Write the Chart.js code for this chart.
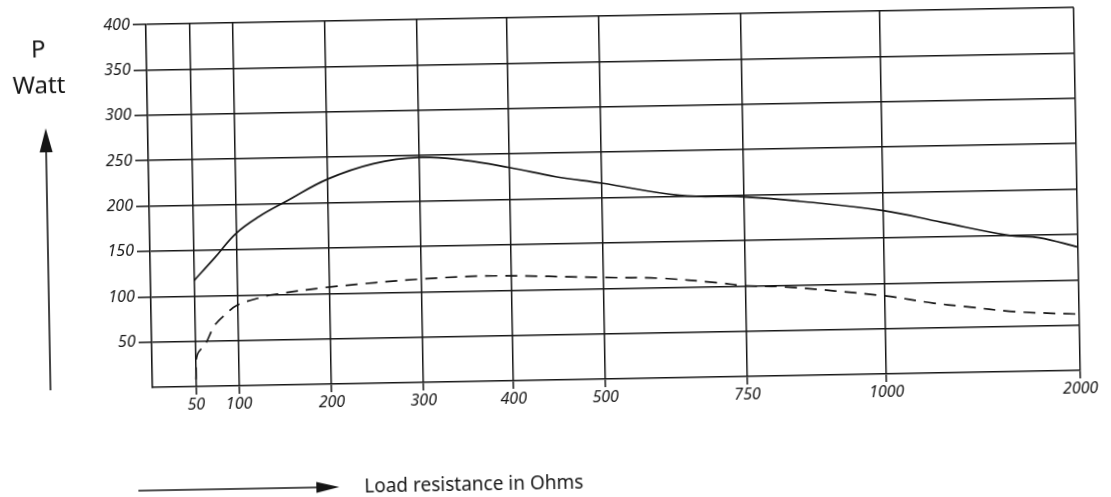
<!DOCTYPE html>
<html><head><meta charset="utf-8">
<script src="https://cdn.jsdelivr.net/npm/chart.js@4/dist/chart.umd.min.js"></script>
<style>
html,body{margin:0;padding:0;background:#fff;overflow:hidden;}
#wrap{width:1111px;height:497px;transform:rotate(-1.05deg);transform-origin:555.5px 248.5px;}
canvas{display:block;}
</style></head><body>
<div id="wrap"><canvas id="c" width="1111" height="497"></canvas></div>
<script>
// ---- axis graduations ----
const resistanceTicks = [50, 100, 200, 300, 400, 500, 750, 1000, 2000];
const resistanceTickLabels = ['50', '100', '200', '300', '400', '500', '750', '1000', '2000'];
// relative spacing of the printed (non-uniform) resistance graduations, axis start = 0, axis end = 10
const axisGraduation = [0.47, 0.93, 1.93, 2.92, 3.89, 4.88, 6.41, 7.91, 10];
const powerTicks = [50, 100, 150, 200, 250, 300, 350, 400];

// ---- series ----
const solidResistance = [50, 75, 100, 125, 156, 200, 250, 300, 350, 400, 450, 500, 637, 750, 850, 1000, 1300, 1650, 1800, 2000];
const solidPower      = [117, 142, 168, 186, 203, 226, 242, 248, 244, 235, 224, 216, 201, 198, 192, 180, 166, 150, 147, 136];

const dashedResistance = [50, 52, 62, 73, 86, 100, 126, 140, 200, 300, 380, 500, 600, 700, 750, 820, 1000, 1250, 1400, 1670, 2000];
const dashedPower      = [8, 35, 47, 67, 79, 89, 97, 100, 107, 114, 116, 112, 110, 104, 100, 98, 86, 77, 73, 66, 62];

const axisTitleY = ['P', 'Watt'];
const axisTitleX = 'Load resistance in Ohms';

// ---- piecewise resistance scale ----
const gradStops = [0].concat(resistanceTicks);
const unitStops = [0].concat(axisGraduation);
const unitMax = axisGraduation[axisGraduation.length - 1];
function toUnit(v) {
  for (let i = 1; i < gradStops.length; i++) {
    if (v <= gradStops[i] || i === gradStops.length - 1) {
      const a = gradStops[i - 1], b = gradStops[i];
      return unitStops[i - 1] + (v - a) / (b - a) * (unitStops[i] - unitStops[i - 1]);
    }
  }
}
function fromUnit(u) {
  for (let i = 1; i < unitStops.length; i++) {
    if (u <= unitStops[i] || i === unitStops.length - 1) {
      const a = unitStops[i - 1], b = unitStops[i];
      return gradStops[i - 1] + (u - a) / (b - a) * (gradStops[i] - gradStops[i - 1]);
    }
  }
}
class PiecewiseScale extends Chart.LinearScale {
  getPixelForValue(v) { return this.getPixelForDecimal(toUnit(v) / unitMax); }
  getValueForPixel(p) { return fromUnit(this.getDecimalForPixel(p) * unitMax); }
  buildTicks() { return resistanceTicks.map(v => ({ value: v })); }
}
PiecewiseScale.id = 'piecewise';
PiecewiseScale.defaults = Chart.LinearScale.defaults;
Chart.register(PiecewiseScale);

const ink = '#161616';

const decor = {
  id: 'decor',
  beforeDraw(chart) {
    const ctx = chart.ctx;
    ctx.save(); ctx.fillStyle = '#fff'; ctx.fillRect(0, 0, chart.width, chart.height); ctx.restore();
  },
  afterDraw(chart) {
    const ctx = chart.ctx;
    ctx.save();
    ctx.fillStyle = ink; ctx.strokeStyle = ink;
    ctx.textAlign = 'center'; ctx.textBaseline = 'middle';
    ctx.font = '24px "Noto Sans"';
    ctx.fillText(axisTitleY[0], 42, 41);
    ctx.fillText(axisTitleY[1], 42, 77);
    // upward arrow
    ctx.lineWidth = 1.6;
    ctx.beginPath(); ctx.moveTo(48, 381); ctx.lineTo(48, 138); ctx.stroke();
    ctx.beginPath(); ctx.moveTo(48, 119); ctx.lineTo(41.5, 143); ctx.lineTo(54.5, 143); ctx.closePath(); ctx.fill();
    // rightward arrow
    ctx.beginPath(); ctx.moveTo(134, 483); ctx.lineTo(318, 483); ctx.stroke();
    ctx.beginPath(); ctx.moveTo(335, 483); ctx.lineTo(312, 477.5); ctx.lineTo(312, 488.5); ctx.closePath(); ctx.fill();
    ctx.textAlign = 'left';
    ctx.font = '19px "Noto Sans"';
    ctx.fillText(axisTitleX, 360, 484);
    ctx.restore();
  }
};

new Chart(document.getElementById('c'), {
  type: 'line',
  data: {
    datasets: [
      {
        data: solidResistance.map((r, i) => ({ x: r, y: solidPower[i] })),
        borderColor: ink, borderWidth: 1.7, pointRadius: 0,
        tension: 0.4, fill: false
      },
      {
        data: dashedResistance.map((r, i) => ({ x: r, y: dashedPower[i] })),
        borderColor: ink, borderWidth: 1.7, borderDash: [12, 8], pointRadius: 0,
        tension: 0.35, fill: false
      }
    ]
  },
  options: {
    responsive: false, animation: false, devicePixelRatio: 1,
    layout: { padding: { left: 90, right: 33, top: 17, bottom: 87 } },
    plugins: { legend: { display: false }, tooltip: { enabled: false }, title: { display: false } },
    scales: {
      x: {
        type: 'piecewise', min: 0, max: 2000,
        grid: { color: ink, lineWidth: 1.5, tickLength: 8, drawTicks: true, tickColor: ink, tickWidth: 1.5 },
        border: { display: true, color: ink, width: 1.6 },
        ticks: {
          autoSkip: false, maxRotation: 0, padding: 1, color: ink,
          font: { family: 'Noto Sans', size: 16, style: 'italic' },
          callback: (v, i) => resistanceTickLabels[i]
        },
        afterFit: s => { s.height = 30; }
      },
      y: {
        type: 'linear', min: 0, max: 400,
        afterBuildTicks: s => { s.ticks = powerTicks.map(v => ({ value: v })); },
        grid: { color: ink, lineWidth: 1.5, tickLength: 13, drawTicks: true, tickColor: ink, tickWidth: 1.5 },
        border: { display: true, color: ink, width: 1.6 },
        ticks: {
          padding: 3, color: ink,
          font: { family: 'Noto Sans', size: 16, style: 'italic' },
          callback: v => String(v)
        },
        afterFit: s => { s.width = 60; }
      }
    }
  },
  plugins: [decor]
});
</script>
</body></html>
